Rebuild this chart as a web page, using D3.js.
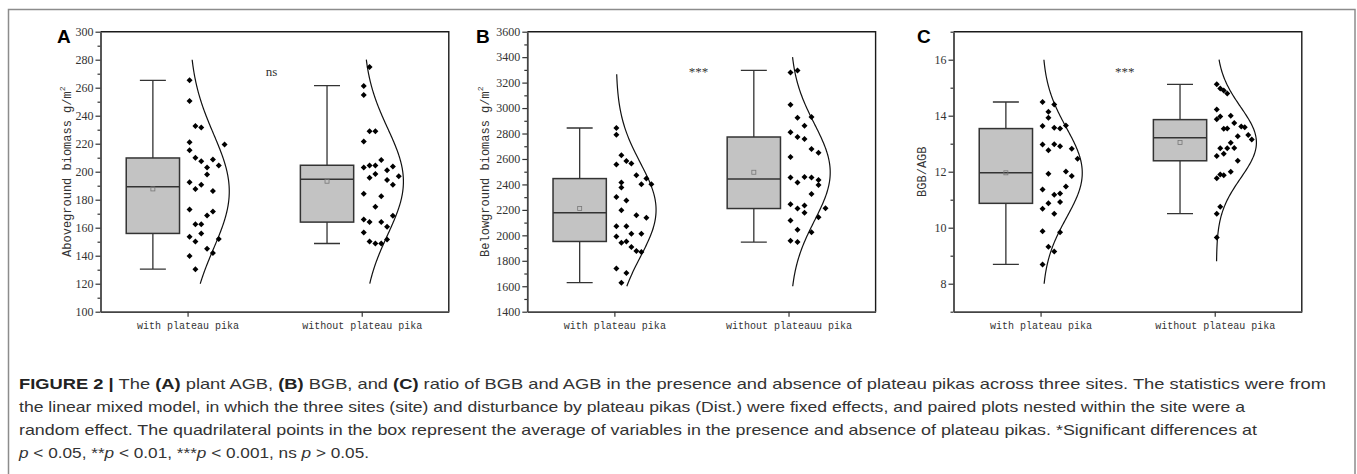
<!DOCTYPE html>
<html>
<head>
<meta charset="utf-8">
<script src="https://cdn.jsdelivr.net/npm/d3@7"></script>
<style>
  body { margin: 0; background: #fff; }
  svg { display: block; }
</style>
</head>
<body>
<svg width="1357" height="474"></svg>
<script>
// Categories (panel B has the typo of the original)
var catsAC = ['with plateau pika', 'without plateau pika'];
var catsB = ['with plateau pika', 'without plateauu pika'];

// Y axis ticks
var ticksA = d3.range(100, 301, 20);
var minorA = d3.range(110, 300, 20);
var ticksB = d3.range(1400, 3601, 200);
var minorB = d3.range(1500, 3600, 200);
var ticksC = [8, 10, 12, 14, 16];
var minorC = [7, 9, 11, 13, 15, 17];

// Raw points (values) and their jitter column
var agbWith = [265.3, 250.5, 232.7, 231.5, 221, 215.3, 219.4, 210, 207.5, 208.7, 203, 204.4, 198, 192.5, 190.6,
  187.7, 186.3, 173, 171.5, 168.7, 162.5, 162.5, 155.9, 153.5, 150.2, 152, 145, 142, 139.7, 130.4];
var agbWithCol = [0, 0, 1, 2, 0, 0, 6, 1, 2, 4, 3, 5, 3, 0, 2, 1, 4, 0, 4, 3, 1, 2, 2, 0, 1, 5, 3, 4, 0, 1];
var agbWithout = [274.8, 261.2, 254.8, 228.9, 228.9, 221.5, 208.4, 203, 204.4, 204.4, 203.7, 201, 195.6, 198.4, 194,
  196.8, 190.6, 184.2, 182.5, 174.9, 165.9, 164, 164, 168.5, 160.6, 156.6, 150.2, 148.7, 148.7, 151.6];
var agbWithoutCol = [1, 0, 0, 1, 2, 0, 3, 0, 1, 2, 5, 4, 1, 2, 4, 6, 5, 0, 3, 2, 0, 1, 3, 5, 4, 0, 1, 2, 3, 4];

var bgbWith = [2843, 2791, 2629, 2584.5, 2563.5, 2555.7, 2472, 2446, 2414.5, 2401.5, 2401.5, 2375, 2302, 2273.4, 2197.6,
  2158.4, 2137.4, 2072, 2072, 2012, 2012, 1991, 1941.4, 1951.8, 1907.4, 1876, 1868.2, 1740, 1703.5, 1627.7];
var bgbWithCol = [0, 0, 1, 2, 3, 0, 4, 6, 1, 5, 7, 1, 0, 2, 1, 4, 6, 0, 2, 3, 5, 0, 1, 2, 3, 4, 5, 0, 2, 1];
var bgbWithout = [3279.8, 3295.4, 3026.2, 2924.3, 2929.5, 2861.5, 2809.2, 2772.6, 2756.9, 2678.5, 2649.8, 2615.8, 2453.7,
  2459, 2453.7, 2414.5, 2435.4, 2396.2, 2325.6, 2244.6, 2234.2, 2210.6, 2213.2, 2176.6, 2142.6, 2116.5, 2043.3, 2025, 1957, 1946.7];
var bgbWithoutCol = [0, 1, 0, 1, 3, 2, 0, 1, 2, 3, 4, 0, 0, 2, 3, 1, 4, 4, 3, 0, 2, 1, 5, 2, 4, 0, 1, 3, 0, 1];

var ratioWith = [14.49, 14.40, 14.14, 13.93, 13.63, 13.57, 13.54, 13.65, 12.97, 12.98, 12.91, 12.77, 12.82, 12.46, 11.93,
  12.01, 11.85, 11.36, 11.47, 11.18, 11.22, 10.87, 10.92, 10.68, 10.5, 9.87, 9.84, 9.32, 9.15, 8.69];
var ratioWithCol = [0, 2, 1, 1, 0, 2, 3, 4, 0, 2, 3, 1, 5, 6, 1, 4, 5, 0, 4, 2, 3, 1, 3, 0, 2, 0, 3, 1, 2, 0];
var ratioWithout = [15.12, 14.97, 14.9, 14.79, 14.22, 13.87, 13.97, 14.0, 13.74, 13.53, 13.54, 13.61, 13.59, 13.27, 13.31,
  13.15, 13.03, 12.84, 12.84, 12.85, 12.64, 12.56, 12.39, 12.0, 11.9, 11.87, 11.77, 10.75, 10.5, 9.65];
var ratioWithoutCol = [0, 1, 2, 3, 0, 0, 1, 4, 5, 2, 3, 7, 8, 6, 9, 10, 4, 1, 3, 5, 2, 0, 6, 4, 1, 2, 0, 1, 0, 0];

// Box stats: [lower whisker, Q1, median, Q3, upper whisker, mean]
var boxAgbWith = [130.4, 155.9, 189.2, 209.8, 265.3, 187.7];
var boxAgbWithout = [148.7, 164, 194.6, 204.6, 261.5, 193.2];
var boxBgbWith = [1627.7, 1951.8, 2176.6, 2445.9, 2843.2, 2210.6];
var boxBgbWithout = [1946.6, 2210.6, 2443.2, 2772.6, 3295.4, 2495.6];
var boxRatioWith = [8.69, 10.87, 11.96, 13.54, 14.49, 11.96];
var boxRatioWithout = [10.5, 12.39, 13.21, 13.86, 15.12, 13.04];

// Normal curves: [mean, sd, from, to]
var curveAgbWith = [186, 41, 120, 280];
var curveAgbWithout = [193, 38, 120, 280];
var curveBgbWith = [2200, 370, 1600, 3265];
var curveBgbWithout = [2495, 380, 1600, 3400];
var curveRatioWith = [11.96, 1.6, 8, 16];
var curveRatioWithout = [13.04, 1.27, 8.8, 16];

var signif = ['ns', '***', '***'];

// Layout
var svg = d3.select('svg');
var plotTop = 31.7;
var plotW = 348.3;
var plotH = 280;

var panels = [
  { letter: 'A', left: 100.5, letterX: -43.5, titleX: -33.8, domain: [100, 300], ticks: ticksA, minor: minorA,
    cats: catsAC, title: 'Aboveground biomass g/m', sig: signif[0],
    values: [agbWith, agbWithout], cols: [agbWithCol, agbWithoutCol],
    boxes: [boxAgbWith, boxAgbWithout], curves: [curveAgbWith, curveAgbWithout] },
  { letter: 'B', left: 527.3, letterX: -51.3, titleX: -42.3, domain: [1400, 3600], ticks: ticksB, minor: minorB,
    cats: catsB, title: 'Belowground biomass g/m', sig: signif[1],
    values: [bgbWith, bgbWithout], cols: [bgbWithCol, bgbWithoutCol],
    boxes: [boxBgbWith, boxBgbWithout], curves: [curveBgbWith, curveBgbWithout] },
  { letter: 'C', left: 953.5, letterX: -36.5, titleX: -31.5, domain: [7, 17], ticks: ticksC, minor: minorC,
    cats: catsAC, title: 'BGB/AGB', sig: signif[2],
    values: [ratioWith, ratioWithout], cols: [ratioWithCol, ratioWithoutCol],
    boxes: [boxRatioWith, boxRatioWithout], curves: [curveRatioWith, curveRatioWithout] }
];

// Outer figure frame
svg.append('rect')
  .attr('x', 8.5).attr('y', 9.5)
  .attr('width', 1346.5).attr('height', 520)
  .attr('fill', 'none').attr('stroke', '#8c8c8c').attr('stroke-width', 1.5);

panels.forEach(drawPanel);

function drawPanel(p) {
  var g = svg.append('g').attr('transform', 'translate(' + p.left + ',' + plotTop + ')');

  var y = d3.scaleLinear().domain(p.domain).range([plotH, 0]);
  var x = d3.scalePoint().domain(p.cats).range([0, plotW]).padding(0.5);
  var boxShift = -34.7, boxW = 53.3, capW = 26;

  // Top and right frame
  g.append('path')
    .attr('d', 'M0,0H' + plotW + 'V' + plotH)
    .attr('fill', 'none').attr('stroke', '#1a1a1a').attr('stroke-width', 1.4);

  // Minor ticks
  g.append('g')
    .attr('class', 'minor')
    .call(d3.axisLeft(y).tickValues(p.minor).tickSize(3).tickSizeOuter(0).tickFormat(''))
    .call(function (a) { a.select('.domain').remove(); });

  // Y axis
  var yAxis = g.append('g')
    .call(d3.axisLeft(y).tickValues(p.ticks).tickSize(5).tickSizeOuter(0).tickPadding(2).tickFormat(d3.format('d')));
  yAxis.selectAll('text')
    .attr('font-family', '"Liberation Serif", serif')
    .attr('font-size', 12).attr('fill', '#333');

  // X axis
  var xAxis = g.append('g')
    .attr('transform', 'translate(0,' + plotH + ')')
    .call(d3.axisBottom(x).tickSize(5).tickSizeOuter(0).tickPadding(5));
  xAxis.selectAll('text')
    .attr('font-family', '"Liberation Mono", monospace')
    .attr('font-size', 10).attr('fill', '#333');

  g.selectAll('.domain').attr('stroke', '#444').attr('stroke-width', 1.8);
  g.selectAll('.tick line').attr('stroke', '#333').attr('stroke-width', 1.2);

  // Y title
  var title = g.append('text')
    .attr('transform', 'translate(' + (p.titleX + 4) + ',' + (plotH / 2) + ') rotate(-90)')
    .attr('text-anchor', 'middle')
    .attr('font-family', '"Liberation Mono", monospace')
    .attr('font-size', 12).attr('fill', '#333')
    .text(p.title);
  if (p.title.indexOf('g/m') > -1) {
    title.append('tspan').attr('dy', -6).attr('font-size', 8).text('2');
  }

  // Panel letter
  g.append('text')
    .attr('x', p.letterX).attr('y', 43 - plotTop)
    .attr('font-family', '"Liberation Sans", Arial, sans-serif')
    .attr('font-weight', 'bold').attr('font-size', 19)
    .text(p.letter);

  // Significance label
  g.append('text')
    .attr('x', plotW / 2 - 3).attr('y', 44)
    .attr('text-anchor', 'middle')
    .attr('font-family', '"Liberation Serif", serif')
    .attr('font-size', 13).attr('fill', '#333')
    .text(p.sig);

  var jitter = d3.scaleLinear().range([2, 37]);
  var diamond = 'M0,-3L3,0L0,3L-3,0Z';

  p.cats.forEach(function (cat, i) {
    var cx = x(cat);
    var b = p.boxes[i];
    var bx = cx + boxShift;

    // Whiskers
    g.append('path')
      .attr('d', 'M' + bx + ',' + y(b[3]) + 'V' + y(b[4]) + 'M' + (bx - capW / 2) + ',' + y(b[4]) + 'H' + (bx + capW / 2) +
        'M' + bx + ',' + y(b[1]) + 'V' + y(b[0]) + 'M' + (bx - capW / 2) + ',' + y(b[0]) + 'H' + (bx + capW / 2))
      .attr('fill', 'none').attr('stroke', '#333').attr('stroke-width', 1.3);

    // Box
    g.append('rect')
      .attr('x', bx - boxW / 2).attr('y', y(b[3]))
      .attr('width', boxW).attr('height', y(b[1]) - y(b[3]))
      .attr('fill', '#c3c3c3').attr('stroke', '#333').attr('stroke-width', 1.5);

    // Median
    g.append('line')
      .attr('x1', bx - boxW / 2).attr('x2', bx + boxW / 2)
      .attr('y1', y(b[2])).attr('y2', y(b[2]))
      .attr('stroke', '#333').attr('stroke-width', 1.5);

    // Mean marker
    g.append('rect')
      .attr('x', bx - 2).attr('y', y(b[5]) - 2)
      .attr('width', 4).attr('height', 4)
      .attr('fill', 'none').attr('stroke', '#777').attr('stroke-width', 0.8);

    // Normal curve
    var c = p.curves[i];
    var steps = d3.range(c[2], c[3], (c[3] - c[2]) / 120).concat([c[3]]);
    var line = d3.line()
      .x(function (v) { return cx + 1.7 + 40 * Math.exp(-Math.pow(v - c[0], 2) / (2 * c[1] * c[1])); })
      .y(function (v) { return y(v); })
      .curve(d3.curveBasis);
    g.append('path')
      .attr('d', line(steps))
      .attr('fill', 'none').attr('stroke', '#111').attr('stroke-width', 1.2);

    // Points
    var cols = p.cols[i];
    jitter.domain([0, d3.max(cols)]);
    g.selectAll('.pt' + i)
      .data(p.values[i])
      .enter()
      .append('path')
      .attr('class', 'pt' + i)
      .attr('d', diamond)
      .attr('transform', function (d, k) { return 'translate(' + (cx + jitter(cols[k])) + ',' + y(d) + ')'; })
      .attr('fill', '#000');
  });
}

// Caption
var capLines = [
  [['FIGURE 2 | ', 'b'], ['The ', ''], ['(A)', 'b'], [' plant AGB, ', ''], ['(B)', 'b'], [' BGB, and ', ''], ['(C)', 'b'],
    [' ratio of BGB and AGB in the presence and absence of plateau pikas across three sites. The statistics were from', '']],
  [['the linear mixed model, in which the three sites (site) and disturbance by plateau pikas (Dist.) were fixed effects, and paired plots nested within the site were a', '']],
  [['random effect. The quadrilateral points in the box represent the average of variables in the presence and absence of plateau pikas. *Significant differences at', '']],
  [['p', 'i'], [' < 0.05, **', ''], ['p', 'i'], [' < 0.01, ***', ''], ['p', 'i'], [' < 0.001, ns ', ''], ['p', 'i'], [' > 0.05.', '']]
];
var capWidths = [1307, 1226, 1238, 350];

capLines.forEach(function (parts, i) {
  var t = svg.append('text')
    .attr('x', 19).attr('y', 389 + i * 23)
    .attr('font-family', '"Liberation Sans", Arial, sans-serif')
    .attr('font-size', 15).attr('fill', '#333')
    .attr('textLength', capWidths[i]).attr('lengthAdjust', 'spacingAndGlyphs');
  parts.forEach(function (s) {
    var ts = t.append('tspan').text(s[0]);
    if (s[1] === 'b') ts.attr('font-weight', 'bold').attr('fill', '#222');
    if (s[1] === 'i') ts.attr('font-style', 'italic');
  });
});
</script>
</body>
</html>
